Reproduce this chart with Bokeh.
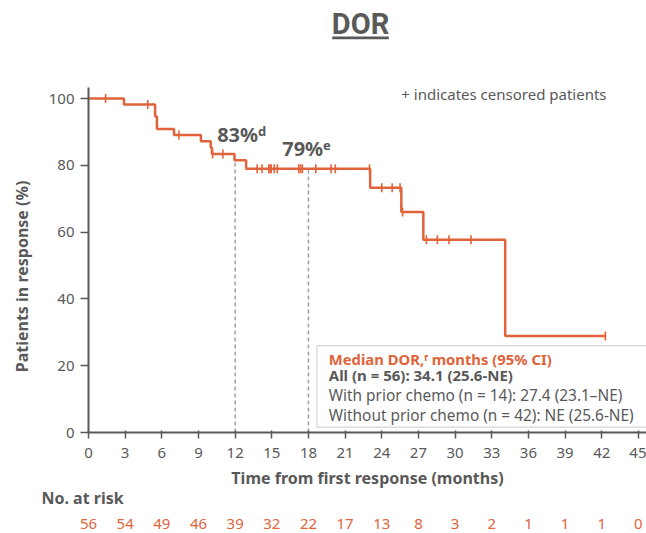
import numpy as np
from bokeh.plotting import figure
from bokeh.layouts import column, row
from bokeh.models import Range1d, FixedTicker
from bokeh.core.properties import value
from bokeh.embed import file_html
from bokeh.resources import INLINE

# ---------------- data ----------------
event_months = [0, 2.9, 5.45, 5.6, 7.0, 9.2, 10.0, 10.1, 11.95, 12.9, 23.05, 25.6, 27.4, 34.1]
pct_in_response = [100, 98.2, 94.6, 90.9, 89.1, 87.2, 85.3, 83.4, 81.5, 79.0, 73.3, 66.0, 57.7, 28.9]
last_month = 42.3
censored_months = [1.4, 4.85, 7.4, 10.15, 11.0, 13.8, 14.2, 14.75, 14.85, 14.95, 15.2, 15.45,
                   17.2, 17.35, 17.5, 18.6, 19.85, 20.2, 23.0, 24.0, 24.85, 25.5, 25.7,
                   27.65, 28.55, 29.5, 31.3, 42.3]
month_ticks = list(range(0, 46, 3))
pct_ticks = [0, 20, 40, 60, 80, 100]
risk_months = list(range(0, 46, 3))
no_at_risk = [56, 54, 49, 46, 39, 32, 22, 17, 13, 8, 3, 2, 1, 1, 1, 0]
landmark_months = [12, 18]
landmark_labels = ["83%ᵈ", "79%ᵉ"]
median_lines = ["Median DOR,ᶠ months (95% CI)",
                "All (n = 56): 34.1 (25.6-NE)",
                "With prior chemo (n = 14): 27.4 (23.1–NE)",
                "Without prior chemo (n = 42): NE (25.6-NE)"]

# ---------------- style ----------------
ORANGE = "#E0633B"
GREY = "#595959"
FONT = "Noto Sans"
W = 646
PX_PER_MONTH = 12.22
PX_PER_PCT = 3.34
X0_PX = 88
Y0_PX = 432
TOP_H = 80
MAIN_FRAME_H = Y0_PX - TOP_H
MAIN_BOTTOM = 36
MAIN_H = MAIN_FRAME_H + MAIN_BOTTOM
YLAB_W = 40
RISK_H = 533 - TOP_H - MAIN_H
X_END = (W - X0_PX) / PX_PER_MONTH
Y_END = MAIN_FRAME_H / PX_PER_PCT
AXIS_TOP = 103.3


def level_at(t):
    i = np.searchsorted(np.array(event_months), t, side="right") - 1
    return pct_in_response[i]


def bare(fig):
    fig.outline_line_color = None
    fig.xgrid.visible = False
    fig.ygrid.visible = False
    fig.min_border_left = 0
    fig.min_border_right = 0
    fig.min_border_top = 0
    fig.min_border_bottom = 0
    return fig


# ---------------- title ----------------
pt = bare(figure(width=W, height=TOP_H, x_range=Range1d(0, W), y_range=Range1d(TOP_H, 0),
                 output_backend="svg", toolbar_location=None,
                 x_axis_location=None, y_axis_location=None))
pt.text(x=[360], y=[23], text=["DOR"], text_font=value("Roboto"), text_font_style="bold",
        text_font_size="29px", text_color=GREY, text_align="center", text_baseline="middle")
pt.segment(x0=[331.7], y0=[37.3], x1=[388.3], y1=[37.3], line_color=GREY, line_width=2.7)

# ---------------- y label ----------------
pl = bare(figure(width=YLAB_W, height=MAIN_H, x_range=Range1d(0, YLAB_W), y_range=Range1d(MAIN_H, 0),
                 output_backend="svg", toolbar_location=None,
                 x_axis_location=None, y_axis_location=None))
pl.text(x=[21.7], y=[216], text=["Patients in response (%)"], angle=np.pi / 2,
        text_font=value(FONT), text_font_style="bold", text_font_size="16px", text_color=GREY,
        text_align="center", text_baseline="middle")

# ---------------- main ----------------
p = figure(width=W - YLAB_W, height=MAIN_H, x_range=Range1d(0, X_END), y_range=Range1d(0, Y_END),
           output_backend="svg", toolbar_location=None)
p.outline_line_color = None
p.xgrid.visible = False
p.ygrid.visible = False
p.min_border_left = X0_PX - YLAB_W
p.min_border_right = 0
p.min_border_top = 0
p.min_border_bottom = MAIN_BOTTOM

for ax in (p.xaxis, p.yaxis):
    ax.axis_line_color = GREY
    ax.axis_line_width = 2
    ax.major_tick_line_color = GREY
    ax.major_tick_line_width = 1.5
    ax.minor_tick_line_color = None
    ax.major_label_text_font = FONT
    ax.major_label_text_font_size = "15px"
    ax.major_label_text_color = GREY

p.xaxis.ticker = FixedTicker(ticks=month_ticks)
p.xaxis.major_tick_in = 2
p.xaxis.major_tick_out = 6
p.xaxis.major_label_standoff = 9

p.yaxis.ticker = FixedTicker(ticks=pct_ticks)
p.yaxis.bounds = (0, AXIS_TOP)
p.yaxis.major_tick_in = 0
p.yaxis.major_tick_out = 8
p.yaxis.major_label_standoff = 6

# landmark dashed lines
p.segment(x0=landmark_months, y0=[0, 0], x1=landmark_months,
          y1=[level_at(m) for m in landmark_months],
          line_color="#a0a0a0", line_width=1.5, line_dash="4 3")

# KM curve
p.step(x=event_months + [last_month], y=pct_in_response + [pct_in_response[-1]],
       mode="after", line_color=ORANGE, line_width=2.5)
p.scatter(x=censored_months, y=[level_at(t) for t in censored_months], marker="dash",
          angle=np.pi / 2, size=9, line_color=ORANGE, line_width=1.6)

# annotations
p.text(x=[25.6], y=[101.2], text=["+ indicates censored patients"], text_font=value(FONT),
       text_font_size="15px", text_color=GREY, text_align="left", text_baseline="middle")
p.text(x=[10.53, 15.85], y=[89.1, 84.9], text=landmark_labels, text_font=value(FONT),
       text_font_style="bold", text_font_size="20px", text_color=GREY,
       text_align="left", text_baseline="middle")

# median box
p.quad(left=[18.7], right=[X_END + 1], bottom=[1.6], top=[26.0], fill_color="white",
       line_color="#d4d4d4", line_width=1.2)
line_y = [22.07, 17.07, 11.08, 5.09]
line_colors = [ORANGE, GREY, GREY, GREY]
line_styles = ["bold", "bold", "normal", "normal"]
line_sizes = ["14.8px", "15px", "15.4px", "15.4px"]
for txt, yy, c, st, fs in zip(median_lines, line_y, line_colors, line_styles, line_sizes):
    p.text(x=[19.66], y=[yy], text=[txt], text_font=value(FONT), text_font_style=st,
           text_font_size=fs, text_color=c, text_align="left", text_baseline="middle")

# ---------------- x label + number at risk ----------------
RISK_TOP = TOP_H + MAIN_H
pr = bare(figure(width=W, height=RISK_H, x_range=Range1d(-X0_PX / PX_PER_MONTH, X_END),
                 y_range=Range1d(RISK_H, 0), output_backend="svg", toolbar_location=None,
                 x_axis_location=None, y_axis_location=None))
pr.text(x=[X_END / 2], y=[477.5 - RISK_TOP], text=["Time from first response (months)"],
        text_font=value(FONT), text_font_style="bold", text_font_size="16px", text_color=GREY,
        text_align="center", text_baseline="middle")
pr.text(x=[-3.85], y=[497 - RISK_TOP], text=["No. at risk"], text_font=value(FONT),
        text_font_style="bold", text_font_size="16px", text_color=GREY,
        text_align="left", text_baseline="middle")
pr.text(x=risk_months, y=[523 - RISK_TOP] * len(risk_months), text=[str(v) for v in no_at_risk],
        text_font=value(FONT), text_font_size="15px", text_color=ORANGE,
        text_align="center", text_baseline="middle")

layout = column(pt, row(pl, p, spacing=0), pr, spacing=0)
open("out.html", "w").write(file_html(layout, INLINE))
